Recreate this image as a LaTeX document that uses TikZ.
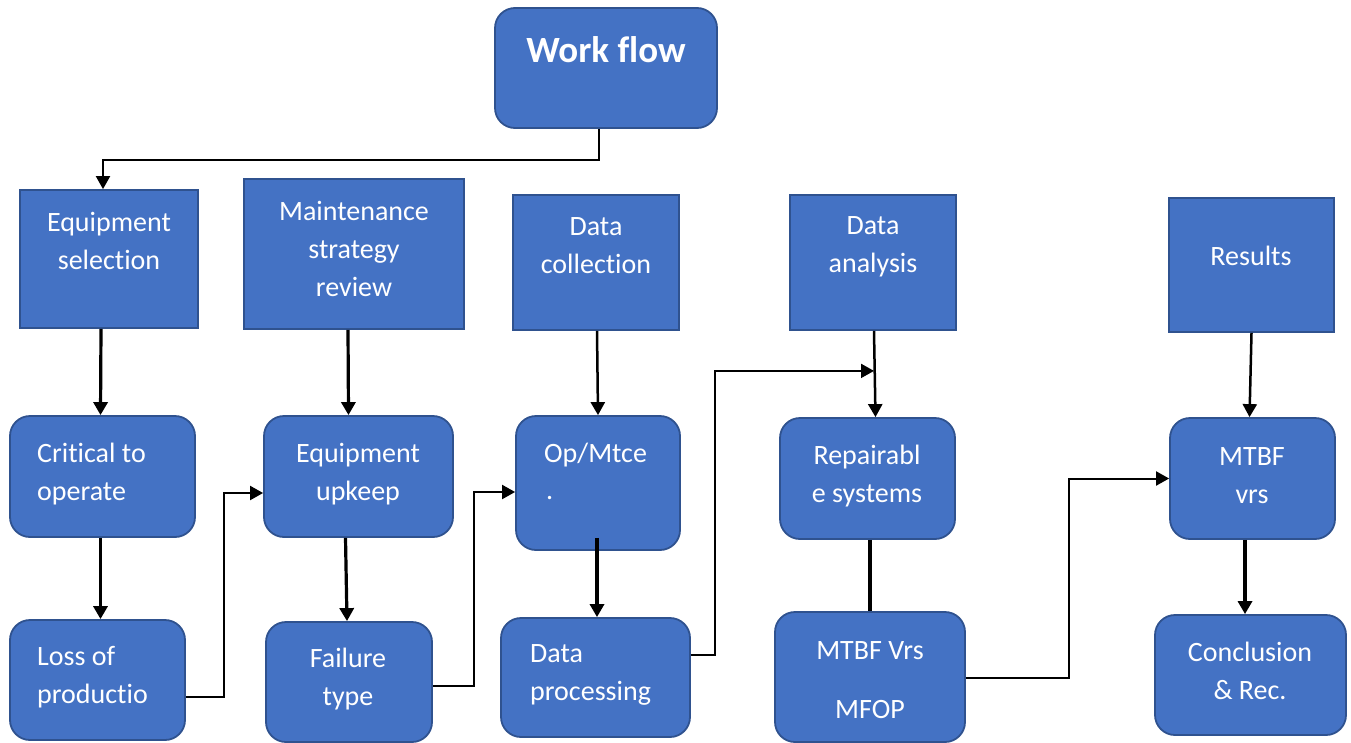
\documentclass[tikz,border=0pt]{standalone}
\usepackage{fontspec}
\setmainfont[Ligatures=NoCommon]{Carlito}
\usetikzlibrary{arrows.meta}
\definecolor{boxblue}{HTML}{4472C4}
\definecolor{boxline}{HTML}{2F528F}
\tikzset{
  rbox/.style={draw=boxline, fill=boxblue, line width=1.8pt, rounded corners=20pt, inner sep=0pt},
  sbox/.style={draw=boxline, fill=boxblue, line width=1.8pt, inner sep=0pt},
  txt/.style={text=white, inner sep=0pt, font=\fontsize{28}{38}\selectfont},
  thinconn/.style={line width=2pt, -{Triangle[length=13pt,width=14pt]}},
  midconn/.style={line width=2.5pt, -{Triangle[length=13pt,width=14pt]}},
  thickconn/.style={line width=3.2pt, -{Triangle[length=13pt,width=14pt]}},
}
\begin{document}
\begin{tikzpicture}[x=1pt,y=-1pt]
\useasboundingbox (0,0) rectangle (1351,742);
% boxes
\node[rbox, minimum width=222pt, minimum height=120pt] (wf) at (606,68) {};
\node[sbox, minimum width=178pt, minimum height=138pt] (es) at (109,259) {};
\node[sbox, minimum width=220pt, minimum height=150pt] (ms) at (354,254) {};
\node[sbox, minimum width=166pt, minimum height=135pt] (dc) at (596,262.5) {};
\node[sbox, minimum width=166pt, minimum height=135pt] (da) at (873,262.5) {};
\node[sbox, minimum width=165pt, minimum height=134pt] (res) at (1251.5,265) {};
\node[rbox, minimum width=185pt, minimum height=121pt] (ct) at (102.5,476.5) {};
\node[rbox, minimum width=189pt, minimum height=121pt] (eu) at (358.5,476.5) {};
\node[rbox, minimum width=164pt, minimum height=134pt] (op) at (598,483) {};
\node[rbox, minimum width=175pt, minimum height=121pt] (rs) at (867.5,478.5) {};
\node[rbox, minimum width=165pt, minimum height=121pt] (mv) at (1252.5,478.5) {};
\node[rbox, minimum width=175pt, minimum height=120pt] (lp) at (97.5,680) {};
\node[rbox, minimum width=166pt, minimum height=120pt] (ft) at (349,682) {};
\node[rbox, minimum width=189pt, minimum height=119pt] (dp) at (595.5,677.5) {};
\node[rbox, minimum width=190pt, minimum height=130pt] (mm) at (870,677) {};
\node[rbox, minimum width=191pt, minimum height=120pt] (cr) at (1250.5,675) {};
% texts
\node[txt, font=\fontsize{37}{44}\selectfont\bfseries] (wft) at (606,50) {Work flow};
\node[txt, align=center] (est) at (109,241) {Equipment\\selection};
\node[txt, align=center] (mst) at (354,249) {Maintenance\\strategy\\review};
\node[txt, align=center] (dct) at (596,246) {Data\\collection};
\node[txt, align=center] (dat) at (873,247) {Data\\analysis};
\node[txt] (rest) at (1251,256) {Results};
\node[txt, align=left, anchor=west] (ctt) at (37,474) {Critical to\\operate};
\node[txt, align=center] (eut) at (358,474) {Equipment\\upkeep};
\node[txt, anchor=west] (opt) at (544,455) {Op/Mtce};
\node[txt, anchor=west] (opd) at (546,498) {.};
\node[txt, align=center] (rst) at (867,476) {Repairabl\\e systems};
\node[txt, align=center] (mvt) at (1252,476) {MTBF\\vrs};
\node[txt, align=left, anchor=west] (lpt) at (37,677) {Loss of\\productio};
\node[txt, align=center] (ftt) at (348,679) {Failure\\type};
\node[txt, align=left, anchor=west] (dpt) at (530,675) {Data\\processing};
\node[txt, align=center] (mmt) at (870,680) {MTBF Vrs\\[21pt]MFOP};
\node[txt, align=center] (crt) at (1250,671) {Conclusion\\\& Rec.};
% connectors
\draw[thinconn] ([xshift=-7pt]wf.south) -- ++(0,31) -| ([xshift=-6pt]es.north);
\draw[thickconn] ([xshift=-8pt]es.south) -- ([xshift=-2pt]ct.north);
\draw[thickconn] ([xshift=-6pt]ms.south) -- ([xshift=-10pt]eu.north);
\draw[midconn] ([xshift=1pt]dc.south) -- (op.north);
\draw[midconn] ([xshift=1pt]da.south) -- ([xshift=8pt]rs.north);
\draw[midconn] (res.south) -- ([xshift=-3pt]mv.north);
\draw[thickconn] ([xshift=-2pt]ct.south) -- ([xshift=3pt]lp.north);
\draw[thickconn] ([xshift=-13pt]eu.south) -- ([xshift=-2pt]ft.north);
\coordinate (opin) at ([xshift=-1pt,yshift=13pt]op.south);
\draw[thickconn] (opin) -- ([xshift=1.5pt]dp.north);
\draw[line width=3.2pt] ([xshift=2.5pt]rs.south) -- (mm.north);
\draw[thickconn] ([xshift=-7.5pt]mv.south) -- ([xshift=-5.5pt]cr.north);
\draw[thinconn] ([yshift=-17pt]lp.east) -- ++(38,0) |- ([yshift=-16.5pt]eu.west);
\draw[thinconn] ([yshift=-4pt]ft.east) -- ++(41,0) |- ([yshift=-9pt]op.west);
\coordinate (daj) at ([xshift=1pt,yshift=-40pt]da.south);
\draw[thinconn] ([yshift=22.5pt]dp.east) -- ++(24,0) |- (daj);
\draw[thinconn] ([yshift=-1pt]mm.east) -- ++(103,0) |- (mv.west);
\end{tikzpicture}
\end{document}
